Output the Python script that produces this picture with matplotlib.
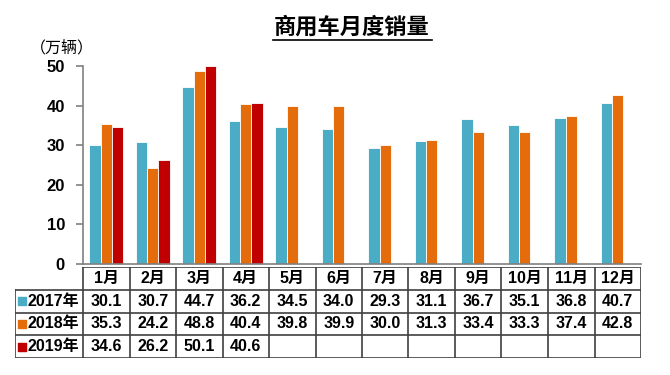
import numpy as np
import matplotlib.pyplot as plt

plt.rcParams['font.family'] = ['Liberation Sans', 'Noto Sans CJK SC', 'DejaVu Sans']

months = ['1月', '2月', '3月', '4月', '5月', '6月', '7月', '8月', '9月', '10月', '11月', '12月']
years = ['2017年', '2018年', '2019年']
sales_2017 = [30.1, 30.7, 44.7, 36.2, 34.5, 34.0, 29.3, 31.1, 36.7, 35.1, 36.8, 40.7]
sales_2018 = [35.3, 24.2, 48.8, 40.4, 39.8, 39.9, 30.0, 31.3, 33.4, 33.3, 37.4, 42.8]
sales_2019 = [34.6, 26.2, 50.1, 40.6]
colors = ['#4BACC6', '#E46C0A', '#C00000']

W, H = 670, 375
fig = plt.figure(figsize=(W / 100, H / 100), dpi=100)

# main bar axes (pixel box -> figure fraction)
x0, x1, y_top, y_bot = 83, 641, 66, 264
ax = fig.add_axes([x0 / W, 1 - y_bot / H, (x1 - x0) / W, (y_bot - y_top) / H])

series = [sales_2017, sales_2018, sales_2019]
x = np.arange(len(months))
bw = 0.245
for i, (vals, c) in enumerate(zip(series, colors)):
    xs = x[:len(vals)] + (i - 1) * bw
    ax.bar(xs, vals, width=bw, color=c, edgecolor='white', linewidth=0.6, clip_on=False)

ax.set_xlim(-0.5, 11.5)
ax.set_ylim(0, 50)
ax.set_yticks([0, 10, 20, 30, 40, 50])
ax.set_xticks([])
for s in ['top', 'right']:
    ax.spines[s].set_visible(False)
for s in ['left', 'bottom']:
    ax.spines[s].set_color('#808080')
    ax.spines[s].set_linewidth(1.2)
ax.tick_params(axis='y', direction='out', length=5, width=1.2, color='#808080',
               labelsize=12, pad=8)
for t in ax.get_yticklabels():
    t.set_fontweight('bold')

fig.text(352 / W, 1 - 27 / H, '商用车月度销量', ha='center', va='center',
         fontsize=16, fontweight='bold', family=['Noto Sans CJK SC'])
fig.add_artist(plt.Line2D([273 / W, 432 / W], [1 - 40 / H, 1 - 40 / H], color='black', lw=1.2))
fig.text(62 / W, 1 - 48 / H, '（万辆）', ha='center', va='center', fontsize=11.5,
         family=['Noto Sans CJK SC'])

# data table under the chart
tx0, ty_top, ty_bot = 15, 267, 358
cw = (x1 - x0) / 12
lab_w = (x0 - tx0) / cw
tax = fig.add_axes([tx0 / W, 1 - ty_bot / H, (x1 - tx0) / W, (ty_bot - ty_top) / H])
tax.set_xlim(-0.5 - lab_w, 11.5)
tax.set_ylim(4, 0)
tax.axis('off')

lc = '#404040'
# horizontal lines
tax.plot([-0.5, 11.5], [0, 0], color=lc, lw=1.2)
for r in [1, 2, 3, 4]:
    tax.plot([-0.5 - lab_w, 11.5], [r, r], color=lc, lw=1.2)
# vertical lines
tax.plot([-0.5 - lab_w, -0.5 - lab_w], [1, 4], color=lc, lw=1.2)
for k in range(13):
    tax.plot([k - 0.5, k - 0.5], [0, 4], color=lc, lw=1.2)

fs = 11.5
for k, m in enumerate(months):
    tax.text(k, 0.5, m, ha='center', va='center', fontsize=fs, fontweight='bold')
for r, (yr, vals, c) in enumerate(zip(years, series, colors)):
    yy = r + 1.5
    tax.scatter([-0.5 - lab_w + 0.16], [yy], marker='s', s=30, color=c, clip_on=False)
    tax.text(-0.5 - lab_w + 0.27, yy, yr, ha='left', va='center', fontsize=fs, fontweight='bold')
    for k, v in enumerate(vals):
        tax.text(k, yy, f'{v:.1f}', ha='center', va='center', fontsize=fs, fontweight='bold')

fig.savefig('out.png', dpi=100)
